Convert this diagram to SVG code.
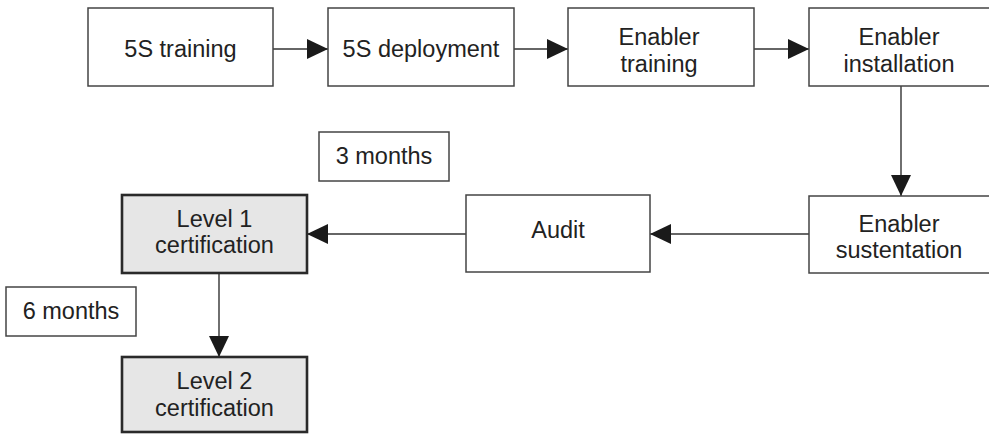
<svg xmlns="http://www.w3.org/2000/svg" width="989" height="434" viewBox="0 0 989 434">
  <defs>
    <marker id="arrow" markerWidth="22" markerHeight="20" refX="21" refY="10" orient="auto" markerUnits="userSpaceOnUse">
      <path d="M0,0 L21,10 L0,20 Z" fill="#1a1a1a"/>
    </marker>
    <style>
      .box { fill: #ffffff; stroke: #444444; stroke-width: 1.5; }
      .cert { fill: #e6e6e6; stroke: #2a2a2a; stroke-width: 2.6; }
      .lbl { font-family: "Liberation Sans", Arial, Helvetica, sans-serif; font-size: 23.5px; fill: #222222; text-anchor: middle; }
      .edge { fill: none; stroke: #333333; stroke-width: 1.4; marker-end: url(#arrow); }
    </style>
  </defs>
  <rect width="989" height="434" fill="#ffffff"/>

  <g id="connectors">
    <line class="edge" x1="273" y1="49" x2="328" y2="49"/>
    <line class="edge" x1="514" y1="49" x2="568" y2="49"/>
    <line class="edge" x1="754" y1="49" x2="809" y2="49"/>
    <line class="edge" x1="901" y1="86" x2="901" y2="196"/>
    <line class="edge" x1="809" y1="234" x2="650" y2="234"/>
    <line class="edge" x1="466" y1="234" x2="307" y2="234"/>
    <line class="edge" x1="219" y1="273" x2="219" y2="357"/>
  </g>

  <g id="n-5s-training">
    <rect class="box" x="88" y="8" width="185" height="78"/>
    <text class="lbl" x="180.5" y="57">5S training</text>
  </g>
  <g id="n-5s-deployment">
    <rect class="box" x="328" y="8" width="186" height="78"/>
    <text class="lbl" x="421" y="57">5S deployment</text>
  </g>
  <g id="n-enabler-training">
    <rect class="box" x="568" y="8" width="186" height="78"/>
    <text class="lbl" x="659" y="45">Enabler</text>
    <text class="lbl" x="659" y="72">training</text>
  </g>
  <g id="n-enabler-installation">
    <rect class="box" x="809" y="8" width="190" height="78"/>
    <text class="lbl" x="899" y="45">Enabler</text>
    <text class="lbl" x="899" y="72">installation</text>
  </g>
  <g id="n-enabler-sustentation">
    <rect class="box" x="809" y="196" width="190" height="77"/>
    <text class="lbl" x="899" y="232">Enabler</text>
    <text class="lbl" x="899" y="258">sustentation</text>
  </g>
  <g id="n-audit">
    <rect class="box" x="466" y="195" width="184" height="77"/>
    <text class="lbl" x="558" y="238">Audit</text>
  </g>
  <g id="n-3-months">
    <rect class="box" x="319" y="132" width="130" height="49"/>
    <text class="lbl" x="384" y="164">3 months</text>
  </g>
  <g id="n-level-1">
    <rect class="cert" x="122" y="195" width="185" height="78"/>
    <text class="lbl" x="214.5" y="227">Level 1</text>
    <text class="lbl" x="214.5" y="253">certification</text>
  </g>
  <g id="n-6-months">
    <rect class="box" x="6" y="287" width="130" height="49"/>
    <text class="lbl" x="71" y="319">6 months</text>
  </g>
  <g id="n-level-2">
    <rect class="cert" x="122" y="357" width="185" height="75"/>
    <text class="lbl" x="214.5" y="389">Level 2</text>
    <text class="lbl" x="214.5" y="416">certification</text>
  </g>
</svg>
